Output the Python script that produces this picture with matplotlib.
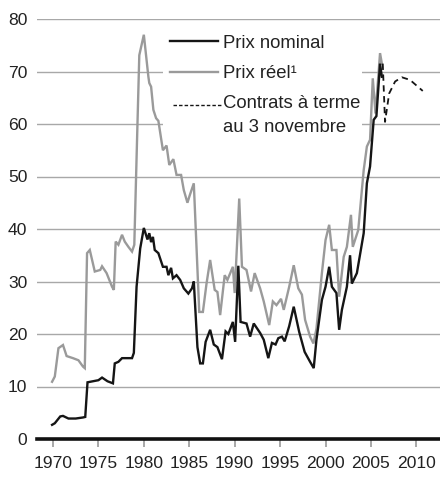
import matplotlib
matplotlib.use("Agg")
import matplotlib.pyplot as plt
from matplotlib.patches import Rectangle
from matplotlib.lines import Line2D

plt.rcParams['font.family'] = ['Liberation Sans', 'DejaVu Sans']

# ---- data ----
years_nominal = [1969.9, 1970.2, 1970.8, 1971.1, 1971.7, 1972.5, 1973.3, 1973.55, 1973.8,
                 1974.4, 1975.0, 1975.4, 1976.0, 1976.6, 1976.8, 1977.2, 1977.6, 1978.7,
                 1978.9, 1979.2, 1979.6, 1980.0, 1980.4, 1980.6, 1980.8, 1981.0, 1981.2,
                 1981.6, 1982.1, 1982.5, 1982.7, 1983.0, 1983.2, 1983.6, 1984.0, 1984.4,
                 1984.9, 1985.3, 1985.5, 1985.9, 1986.2, 1986.5, 1986.8, 1987.3, 1987.7,
                 1988.1, 1988.6, 1989.0, 1989.3, 1989.8, 1990.05, 1990.4, 1990.65, 1991.3,
                 1991.7, 1992.1, 1992.8, 1993.2, 1993.7, 1994.1, 1994.5, 1994.8, 1995.2,
                 1995.5, 1996.0, 1996.5, 1996.9, 1997.1, 1997.7, 1998.3, 1998.7, 1999.0,
                 1999.6, 2000.0, 2000.4, 2000.7, 2001.2, 2001.5, 2001.8, 2002.35, 2002.7,
                 2002.9, 2003.45, 2004.2, 2004.55, 2004.9, 2005.3, 2005.6, 2006.0, 2006.2]
nominal = [2.7, 3.0, 4.3, 4.4, 3.9, 3.9, 4.1, 4.2, 10.8,
           11.0, 11.2, 11.7, 11.0, 10.6, 14.4, 14.7, 15.4, 15.4,
           16.4, 29.0, 36.3, 40.2, 38.0, 39.2, 37.5, 38.5, 36.0,
           35.4, 32.8, 32.8, 31.2, 32.6, 30.6, 31.2, 30.3, 28.7,
           27.7, 28.7, 30.0, 17.5, 14.4, 14.4, 18.5, 20.8, 18.0,
           17.5, 15.2, 20.5, 20.0, 22.3, 18.5, 33.0, 22.3, 22.0,
           19.5, 22.0, 20.2, 18.9, 15.4, 18.3, 18.0, 19.2, 19.5,
           18.6, 21.5, 25.2, 22.0, 20.4, 16.6, 14.7, 13.5, 18.9,
           26.5, 29.0, 32.8, 29.0, 27.8, 20.8, 24.6, 29.0, 35.0,
           29.6, 31.6, 39.2, 48.7, 51.9, 60.8, 61.5, 71.5, 69.0]

years_real = [1969.9, 1970.2, 1970.6, 1971.1, 1971.5, 1972.2, 1972.8, 1973.3, 1973.5,
              1973.75, 1974.05, 1974.6, 1975.2, 1975.4, 1975.9, 1976.5, 1976.7, 1976.9,
              1977.2, 1977.6, 1977.9, 1978.3, 1978.7, 1978.95, 1979.3, 1979.5, 1980.0,
              1980.5, 1980.6, 1980.8, 1981.05, 1981.35, 1981.6, 1982.1, 1982.5, 1982.8,
              1983.25, 1983.6, 1984.1, 1984.4, 1984.8, 1985.05, 1985.5, 1986.1, 1986.5,
              1986.9, 1987.3, 1987.8, 1988.1, 1988.4, 1988.9, 1989.2, 1989.8, 1990.0,
              1990.5, 1990.8, 1991.3, 1991.8, 1992.2, 1992.8, 1993.2, 1993.8, 1994.2,
              1994.6, 1995.1, 1995.4, 1996.0, 1996.5, 1997.0, 1997.4, 1997.75, 1998.3,
              1998.67, 1999.0, 1999.6, 2000.0, 2000.4, 2000.7, 2001.2, 2001.5, 2002.0,
              2002.35, 2002.8, 2003.0, 2003.6, 2004.2, 2004.55, 2004.9, 2005.2, 2005.5,
              2006.0, 2006.2]
real = [10.9, 11.9, 17.3, 17.9, 15.8, 15.4, 15.0, 13.8, 13.5,
        35.4, 36.0, 31.9, 32.2, 32.9, 31.6, 29.0, 28.4, 37.6,
        37.0, 38.9, 37.6, 36.6, 35.7, 37.0, 60.1, 73.1, 77.0,
        69.0, 67.8, 67.1, 62.7, 61.1, 60.6, 55.0, 55.9, 52.2,
        53.3, 50.3, 50.3, 47.4, 45.0, 46.4, 48.7, 24.2, 24.2,
        29.6, 34.1, 28.4, 28.0, 23.6, 31.2, 30.3, 32.8, 27.8,
        45.8, 32.8, 32.2, 28.1, 31.6, 28.7, 26.2, 21.7, 26.2,
        25.5, 26.7, 24.6, 29.0, 33.1, 28.7, 27.5, 22.7, 19.5,
        18.2, 21.0, 31.6, 37.9, 40.8, 36.0, 36.0, 27.1, 34.7,
        36.6, 42.7, 36.6, 39.8, 51.2, 55.7, 57.0, 68.7, 62.0,
        73.5, 71.5]

years_futures = [2006.3, 2006.55, 2007.0, 2007.66, 2008.4, 2009.3, 2010.7]
futures = [71.5, 60.4, 65.8, 68.1, 68.9, 68.4, 66.3]

xticks = [1970, 1975, 1980, 1985, 1990, 1995, 2000, 2005, 2010]
yticks = [0, 10, 20, 30, 40, 50, 60, 70, 80]
legend_labels = ["Prix nominal", "Prix réel¹", "Contrats à terme", "au 3 novembre"]

# ---- figure ----
W, H = 440, 478
fig = plt.figure(figsize=(W / 100, H / 100), dpi=100)
ax = fig.add_axes([37 / W, 39 / H, 1 - 37 / W, (439 - 19) / H])

GREY = '#9a9a9a'
GRID = '#a8a8a8'

for v in yticks[1:]:
    ax.axhline(v, color=GRID, lw=1.0, zorder=1)
ax.axhline(0, color='#111111', lw=2.6, zorder=5, clip_on=False)

ax.plot(years_real, real, color=GREY, lw=1.7, zorder=3, solid_joinstyle='miter')
ax.plot(years_nominal, nominal, color='#151515', lw=1.7, zorder=4, solid_joinstyle='miter')
ax.plot(years_futures, futures, color='#151515', lw=1.3, ls=(0, (3.5, 2.5)), zorder=4)

ax.set_xlim(1968.24, 2012.6)
ax.set_ylim(0, 80)
for s in ax.spines.values():
    s.set_visible(False)

ax.set_xticks(xticks)
ax.set_yticks(yticks)
ax.tick_params(axis='x', direction='out', length=5.5, width=1.2, color=GREY,
               pad=7, labelsize=12.6, labelcolor='#222222')
ax.tick_params(axis='y', length=0, pad=7, labelsize=12.6, labelcolor='#222222')

# ---- legend (white box over the grid) ----
def fx(px):
    return px / W

def fy(py):
    return 1 - py / H

box = Rectangle((fx(163), fy(140)), fx(362) - fx(163), fy(28) - fy(140),
                transform=fig.transFigure, facecolor='white', edgecolor='none', zorder=2)
ax.add_patch(box)

ax.add_line(Line2D([fx(170), fx(218)], [fy(41), fy(41)], transform=fig.transFigure,
                   color='#151515', lw=1.7, zorder=6))
ax.add_line(Line2D([fx(170), fx(218)], [fy(72), fy(72)], transform=fig.transFigure,
                   color=GREY, lw=1.7, zorder=6))
ax.add_line(Line2D([fx(173), fx(222)], [fy(105), fy(105)], transform=fig.transFigure,
                   color='#151515', lw=1.0, ls=(0, (2.5, 1.5)), zorder=6))

for lab, py in zip(legend_labels, [43, 74, 104, 127]):
    fig.text(fx(223), fy(py), lab, fontsize=13.3, color='#222222',
             ha='left', va='center', zorder=7)

fig.savefig('out.png', dpi=100)
